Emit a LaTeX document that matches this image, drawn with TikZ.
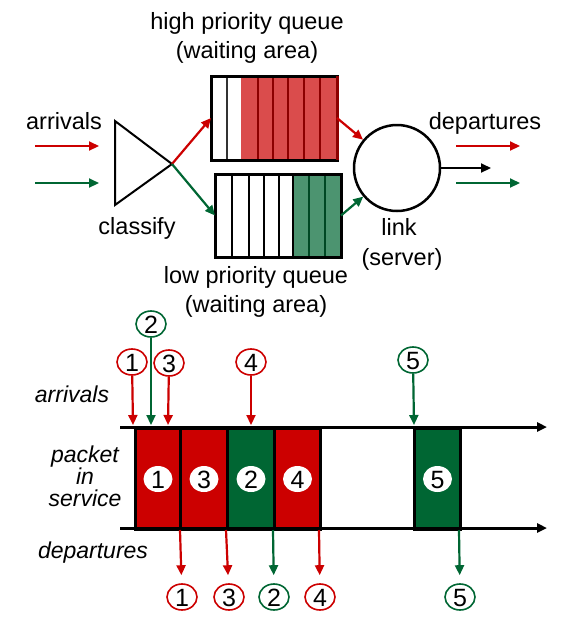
\documentclass[tikz,border=0pt]{standalone}
\usepackage{fontspec}
\setmainfont{Liberation Sans}
\usetikzlibrary{arrows.meta,shapes.geometric}
\definecolor{ared}{RGB}{204,0,0}
\definecolor{agreen}{RGB}{0,102,51}
\definecolor{qred}{RGB}{218,76,76}
\definecolor{qredline}{RGB}{140,0,0}
\definecolor{qgreen}{RGB}{76,148,112}
\definecolor{qgreenline}{RGB}{0,72,36}
\begin{document}
\begin{tikzpicture}[x=1pt,y=-1pt,
  lbl/.style={font=\fontsize{23.5}{27}\selectfont, inner sep=0pt, anchor=base},
  ilbl/.style={font=\fontsize{23}{27}\selectfont\itshape, inner sep=0pt, anchor=base},
  arr/.style={line width=2.2pt, -{Triangle[length=10pt,width=9pt]}},
  axis/.style={line width=3pt, -{Triangle[length=10pt,width=9pt]}},
  queue/.style={minimum width=126pt, minimum height=84pt, inner sep=0pt, outer sep=0pt, anchor=north west},
  pkt/.style={draw=black, line width=3pt, minimum width=46pt, minimum height=101pt, inner sep=0pt, anchor=north west},
  pnum/.style={ellipse, fill=white, minimum width=29pt, minimum height=26pt, inner sep=0pt,
    font=\fontsize{25}{25}\selectfont, text height=18pt, text depth=0pt},
  clab/.style={ellipse, draw=#1, line width=1.6pt, minimum width=30pt, minimum height=26pt, inner sep=0pt,
    font=\fontsize{25}{25}\selectfont, text height=18pt, text depth=0pt},
]
\useasboundingbox (0,0) rectangle (569,638);

% ---------- top diagram ----------
% labels
\node[lbl] (thpq) at (247,29) {high priority queue};
\node[lbl] (thpw) at (247,58) {(waiting area)};
\node[lbl] (tarr) at (64,129) {arrivals};
\node[lbl] (tcls) at (137,234) {classify};
\node[lbl] (tlpq) at (256,283) {low priority queue};
\node[lbl] (tlpw) at (256,312) {(waiting area)};
\node[lbl] (tdep) at (485,129) {departures};
\node[lbl] (tlnk) at (399,235) {link};
\node[lbl] (tsrv) at (402,265) {(server)};

% classifier triangle
\coordinate (c1) at (115,121);
\coordinate (c2) at (115,205);
\coordinate (tip) at (172,164);
\draw[line width=2pt, line join=miter] (c1) -- (tip) -- (c2) -- cycle;

% high priority queue
\node[queue] (hq) at (211,76) {};
\fill[qred] (241,76) rectangle (337,160);
\foreach \x in {258,273,288,304,320}
  \draw[qredline, line width=2pt] (\x,76) -- (\x,160);
\draw[black!80, line width=1.8pt] (227,76) -- (227,160);
\draw[line width=3pt] (hq.north west) rectangle (hq.south east);
\draw[qredline, line width=3pt] (337,76) -- (337,160);

% low priority queue
\node[queue, minimum height=83pt] (lq) at (215,174) {};
\fill[qgreen] (293,174) rectangle (341,257);
\foreach \x in {232,249,264,279,293}
  \draw[black, line width=1.8pt] (\x,174) -- (\x,257);
\foreach \x in {309,325}
  \draw[qgreenline, line width=2pt] (\x,174) -- (\x,257);
\draw[line width=3pt] (lq.north west) rectangle (lq.south east);

% server
\node[circle, draw, line width=2.5pt, minimum size=86pt, inner sep=0pt] (srv) at (397,168) {};

% arrows
\coordinate (ar1) at (35,146);  \coordinate (ar1e) at (99,146);
\coordinate (ag1) at (35,183);  \coordinate (ag1e) at (99,183);
\draw[arr, ared] (ar1) -- (ar1e);
\draw[arr, agreen] (ag1) -- (ag1e);
\draw[arr, ared] (tip) -- (hq.west);
\draw[arr, agreen] (tip) -- (lq.west);
\draw[arr, ared] (hq.east) -- (srv);
\draw[arr, agreen] (lq.east) -- (srv);
\coordinate (out) at (491,168);
\draw[arr, black] (srv.east) -- (out);
\coordinate (dr1) at (456,146);  \coordinate (dr1e) at (520,146);
\coordinate (dg1) at (456,183);  \coordinate (dg1e) at (520,183);
\draw[arr, ared] (dr1) -- (dr1e);
\draw[arr, agreen] (dg1) -- (dg1e);

% ---------- bottom timeline ----------
\node[ilbl] (barr) at (72,402) {arrivals};
\node[ilbl] (bp1) at (85,462) {packet};
\node[ilbl] (bp2) at (85,484) {in};
\node[ilbl] (bp3) at (85,506) {service};
\node[ilbl] (bdep) at (93,558) {departures};

% packets in service
\node[pkt, fill=ared, minimum width=45pt] (p1) at (134,427) {};
\node[pkt, fill=ared, minimum width=47pt] (p3) at (179,427) {};
\node[pkt, fill=agreen, minimum width=47pt] (p2) at (226,427) {};
\node[pkt, fill=ared, minimum width=46pt] (p4) at (273,427) {};
\node[pkt, fill=agreen, minimum width=46pt] (p5) at (413,427) {};
\node[pnum] (n1) at (p1.center) {1};
\node[pnum] (n3) at (p3.center) {3};
\node[pnum] (n2) at (p2.center) {2};
\node[pnum] (n4) at (p4.center) {4};
\node[pnum] (n5) at (p5.center) {5};

% time axes
\coordinate (ta0) at (120,427); \coordinate (ta1) at (547,427);
\coordinate (tb0) at (120,528); \coordinate (tb1) at (547,528);
\draw[axis] (ta0) -- (ta1);
\draw[axis] (tb0) -- (tb1);

% arrival labels
\node[clab=ared] (a1) at (132,362) {1};
\node[clab=agreen] (a2) at (151,324) {2};
\node[clab=ared] (a3) at (169,363) {3};
\node[clab=ared] (a4) at (251,362) {4};
\node[clab=agreen] (a5) at (413,360) {5};
\coordinate (ae1) at (133,425);
\coordinate (ae2) at (151,425);
\coordinate (ae3) at (168,425);
\coordinate (ae4) at (251,425);
\coordinate (ae5) at (414,425);
\draw[arr, ared] (a1) -- (ae1);
\draw[arr, agreen] (a2) -- (ae2);
\draw[arr, ared] (a3) -- (ae3);
\draw[arr, ared] (a4) -- (ae4);
\draw[arr, agreen] (a5) -- (ae5);

% departure labels
\node[clab=ared] (d1) at (182,597) {1};
\node[clab=ared] (d3) at (229,597) {3};
\node[clab=agreen] (d2) at (274,597) {2};
\node[clab=ared] (d4) at (320,597) {4};
\node[clab=agreen] (d5) at (460,597) {5};
\coordinate (ds1) at (180,530);
\coordinate (ds3) at (226,530);
\coordinate (ds2) at (273,530);
\coordinate (ds4) at (319,530);
\coordinate (ds5) at (459,530);
\draw[arr, ared, shorten >=8pt] (ds1) -- (d1);
\draw[arr, ared, shorten >=8pt] (ds3) -- (d3);
\draw[arr, agreen, shorten >=8pt] (ds2) -- (d2);
\draw[arr, ared, shorten >=8pt] (ds4) -- (d4);
\draw[arr, agreen, shorten >=8pt] (ds5) -- (d5);
\end{tikzpicture}
\end{document}
